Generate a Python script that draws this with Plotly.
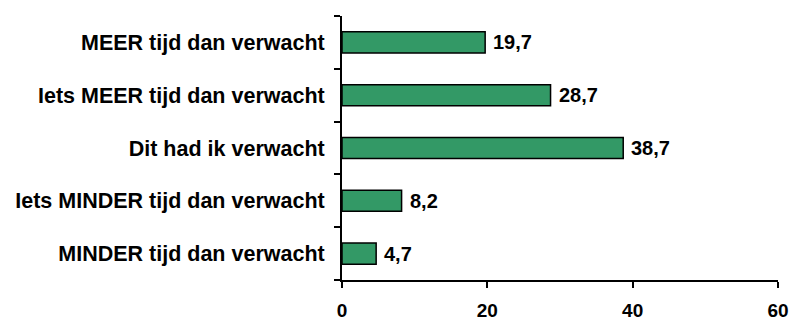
import plotly.graph_objects as go

# Answer categories (top to bottom) and their percentages
categories = [
    "MEER tijd dan verwacht",
    "Iets MEER tijd dan verwacht",
    "Dit had ik verwacht",
    "Iets MINDER tijd dan verwacht",
    "MINDER tijd dan verwacht",
]
values = [19.7, 28.7, 38.7, 8.2, 4.7]
x_ticks = [0, 20, 40, 60]

font_family = "Liberation Sans, Arial, sans-serif"
bar_color = "#339966"

# Plotly draws category axes bottom-up, so reverse for top-down order
cats_plot = categories[::-1]
vals_plot = values[::-1]

fig = go.Figure(
    go.Bar(
        x=vals_plot,
        y=cats_plot,
        orientation="h",
        width=0.4,
        marker=dict(color=bar_color, line=dict(color="black", width=1.5)),
        hoverinfo="skip",
    )
)

# Value labels to the right of each bar, with decimal comma
for c, v in zip(cats_plot, vals_plot):
    fig.add_annotation(
        x=v, y=c, xref="x", yref="y",
        text=f"<b>{v:.1f}</b>".replace(".", ","),
        showarrow=False, xanchor="left", yanchor="middle",
        xshift=6,
        font=dict(family=font_family, size=20, color="black"),
    )

fig.update_layout(
    width=790, height=320,
    margin=dict(l=342, r=12, t=16, b=40),
    plot_bgcolor="white", paper_bgcolor="white",
    showlegend=False,
    xaxis=dict(
        range=[0, 60], tickvals=x_ticks,
        ticktext=[f"<b>{t}</b>" for t in x_ticks],
        showgrid=False, zeroline=False, automargin=False,
        showline=True, linecolor="black", linewidth=2,
        ticks="outside", ticklen=6, tickwidth=2, tickcolor="black",
        tickfont=dict(family=font_family, size=19, color="black"),
        ticklabelstandoff=6,
    ),
    yaxis=dict(
        categoryorder="array", categoryarray=cats_plot,
        tickvals=cats_plot,
        ticktext=[f"<b>{c}</b>" for c in cats_plot],
        tickson="boundaries",
        showgrid=False, zeroline=False, automargin=False,
        showline=True, linecolor="black", linewidth=2,
        ticks="outside", ticklen=6, tickwidth=2, tickcolor="black",
        tickfont=dict(family=font_family, size=21.5, color="black"),
        ticklabelstandoff=11,
    ),
)

fig.write_html("out.html")
